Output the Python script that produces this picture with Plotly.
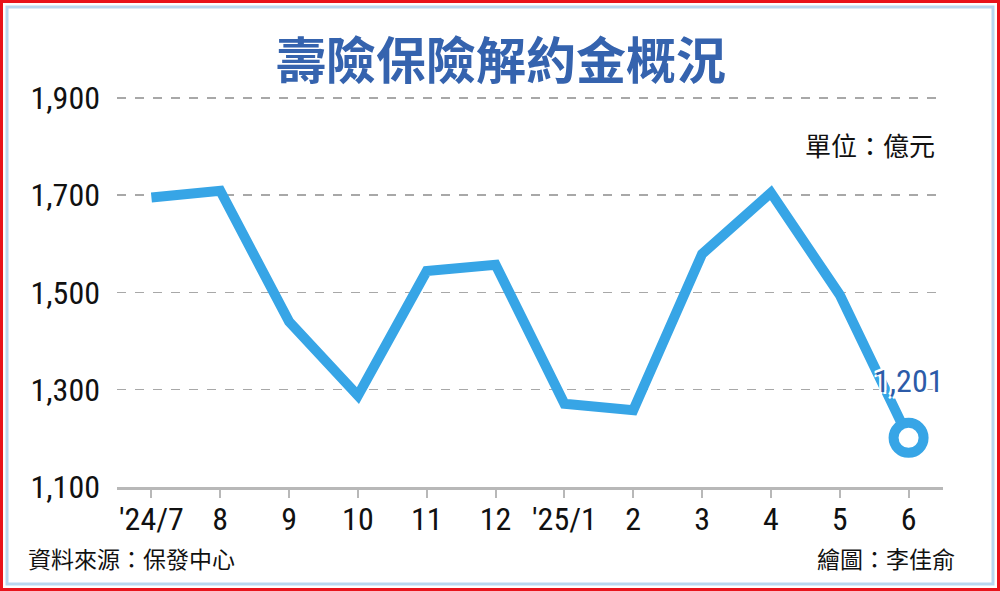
import plotly.graph_objects as go

months = ["'24/7", "8", "9", "10", "11", "12", "'25/1", "2", "3", "4", "5", "6"]
values = [1695, 1709, 1440, 1288, 1544, 1557, 1271, 1258, 1579, 1705, 1495, 1201]
y_ticks = [1100, 1300, 1500, 1700, 1900]
y_tick_text = ["1,100", "1,300", "1,500", "1,700", "1,900"]

W, H = 1000, 591
L, R, T, B = 117, 57, 93, 104
pw, ph = W - L - R, H - T - B

def px(x):
    return (x - L) / pw

def py(y):
    return (H - B - y) / ph

LINE = "#37A5E6"
NUM_FONT = "Liberation Sans Narrow, Roboto Condensed, Arial Narrow, sans-serif"
CJK = "Noto Sans CJK TC"

xs = list(range(len(months)))

fig = go.Figure()
fig.add_trace(go.Scatter(
    x=xs, y=values, mode="lines",
    line=dict(color=LINE, width=10),
    hoverinfo="skip", cliponaxis=False,
))
fig.add_trace(go.Scatter(
    x=[xs[-1]], y=[values[-1]], mode="markers",
    marker=dict(size=30, color="white", line=dict(color=LINE, width=10)),
    hoverinfo="skip", cliponaxis=False,
))

fig.add_annotation(
    x=xs[-1], y=values[-1], xref="x", yref="y",
    text=f"{values[-1]:,}", showarrow=False,
    xanchor="center", yanchor="bottom", yshift=36,
    font=dict(family=NUM_FONT, size=32, color="#2C5BA8",
              shadow="2px 2px 0 white, -2px -2px 0 white, 2px -2px 0 white, -2px 2px 0 white"),
)

fig.update_layout(
    width=W, height=H,
    margin=dict(l=L, r=R, t=T, b=B),
    paper_bgcolor="white", plot_bgcolor="white",
    showlegend=False,
    xaxis=dict(
        range=[-0.5, 11.5], tickmode="array", tickvals=xs, ticktext=months,
        showgrid=False, zeroline=False,
        showline=True, linecolor="#B8B8B8", linewidth=3,
        ticks="outside", ticklen=8, tickwidth=2, tickcolor="#B8B8B8",
        tickfont=dict(family=NUM_FONT, size=32, color="#111111"),
        ticklabelstandoff=-6,
    ),
    yaxis=dict(
        range=[1100, 1910], tickmode="array", tickvals=y_ticks, ticktext=y_tick_text,
        showgrid=True, gridcolor="#A8A8A8", griddash="dash", gridwidth=1.5,
        zeroline=False, showline=False, ticks="",
        tickfont=dict(family=NUM_FONT, size=32, color="#111111"),
        ticklabelstandoff=16,
    ),
)

# title
fig.add_annotation(
    x=px(501), y=py(57), xref="paper", yref="paper",
    text="<b>壽險保險解約金概況</b>", showarrow=False,
    xanchor="center", yanchor="middle",
    font=dict(family=CJK, size=50, color="#3563AE"),
)
# unit
fig.add_annotation(
    x=px(937), y=py(145), xref="paper", yref="paper",
    text="單位：億元", showarrow=False,
    xanchor="right", yanchor="middle",
    font=dict(family=CJK, size=26, color="#111111"),
)
# source
fig.add_annotation(
    x=px(26), y=py(558), xref="paper", yref="paper",
    text="資料來源：保發中心", showarrow=False,
    xanchor="left", yanchor="middle",
    font=dict(family=CJK, size=23, color="#111111"),
)
fig.add_annotation(
    x=px(957), y=py(558), xref="paper", yref="paper",
    text="繪圖：李佳俞", showarrow=False,
    xanchor="right", yanchor="middle",
    font=dict(family=CJK, size=23, color="#111111"),
)

# borders
fig.add_shape(type="rect", xref="paper", yref="paper",
              x0=px(1.5), x1=px(998.5), y0=py(1.5), y1=py(589.5),
              line=dict(color="#E8141C", width=3), layer="above")
fig.add_shape(type="rect", xref="paper", yref="paper",
              x0=px(7), x1=px(993), y0=py(7), y1=py(584),
              line=dict(color="#B9D7EF", width=3), layer="above")

fig.write_html(
    "out.html",
    config={"displayModeBar": False, "staticPlot": True},
    post_script="document.body.style.margin='0';document.body.style.overflow='hidden';",
)
